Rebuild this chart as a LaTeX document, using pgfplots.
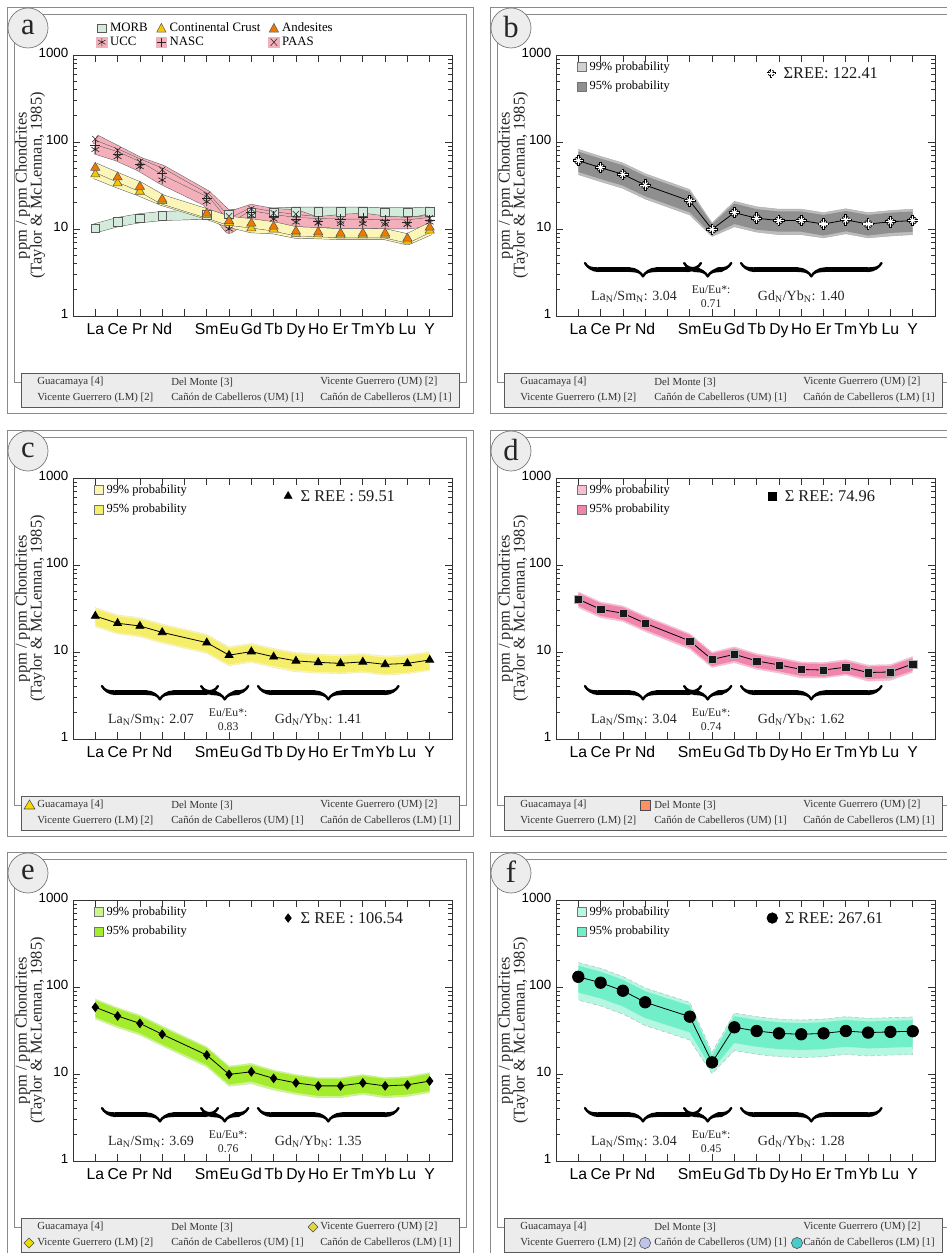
\documentclass[border=0pt]{standalone}
\usepackage{fontspec}
\setmainfont{Liberation Serif}
\setsansfont{Liberation Sans}
\usepackage{pgfplots}
\pgfplotsset{compat=1.18}
\usepackage{pgfplotstable}
\usetikzlibrary{decorations.pathreplacing,calligraphy}

\definecolor{frm}{HTML}{8A8A8A}
\definecolor{legfill}{HTML}{ECECEC}
\definecolor{morbc}{HTML}{D3EBDB}
\definecolor{ccy}{HTML}{F6C700}
\definecolor{andc}{HTML}{F07800}
\definecolor{ribyel}{HTML}{FBF6B8}
\definecolor{pinkc}{HTML}{F4B0BA}
\definecolor{bnn}{HTML}{BDBDBD}\definecolor{bnf}{HTML}{8F8F8F}
\definecolor{cnn}{HTML}{FBF5B0}\definecolor{cnf}{HTML}{F4EE68}
\definecolor{dnn}{HTML}{F9BDD2}\definecolor{dnf}{HTML}{F084AD}
\definecolor{enn}{HTML}{CCF58F}\definecolor{enf}{HTML}{A5EC2F}
\definecolor{fnn}{HTML}{B5F7E1}\definecolor{fnf}{HTML}{70EFC8}

\pgfplotstableread{
x morb cc andes ucc nasc paas
0 10.2 42.5 50.7 82 92 108
1 12.0 33.5 39.3 68 73 80
2 13.3 26.9 30.7 52 56 59
3 14.1 21.0 21.9 36.6 44 48
5 14.6 14.6 15.1 20.6 22.5 24.6
6 14.8 11.8 12.4 10.0 11.5 14.0
7 15.3 10.2 11.6 14.3 15.5 17.0
8 15.5 9.9 10.7 13.0 14.0 15.2
9 15.8 8.8 9.4 12.0 13.0 14.8
10 15.8 8.7 9.2 11.7 12.3 12.0
11 15.8 8.5 8.9 11.5 13.0 12.5
12 15.8 8.5 8.9 11.5 13.5 12.8
13 15.6 8.5 8.9 11.3 12.5 12.0
14 15.6 7.4 7.8 11.3 12.0 11.6
15 15.8 9.6 10.4 12.0 12.7 13.3
}\ta
% mean values of panels b-f
\pgfplotstableread{
x b c d e f
0 61 25.9 40.4 58.5 131
1 50.7 21.4 30.9 46.4 112
2 42.5 19.9 27.9 38.2 90.6
3 32 16.8 21.4 28.6 66.7
5 21 12.8 13.4 16.5 45.6
6 9.9 9.2 8.2 9.9 13.6
7 15.4 10.1 9.4 10.6 34.4
8 13.3 8.8 7.9 8.9 31.2
9 12.5 7.9 7.1 7.9 29.3
10 12.5 7.6 6.3 7.3 28.6
11 11.4 7.4 6.2 7.3 29.3
12 12.7 7.7 6.7 7.9 31.2
13 11.4 7.2 5.8 7.3 29.9
14 12.1 7.4 5.9 7.5 30.5
15 12.5 8.1 7.3 8.3 31
}\tm

\pgfplotsset{
    scale only axis, width=284.25pt, height=195.75pt,
    ymin=1, ymax=1000, xmin=-1, xmax=16,
    xtick={0,...,15},
    xticklabels={La,Ce,Pr,Nd,{},Sm,Eu,Gd,Tb,Dy,Ho,Er,Tm,Yb,Lu,Y},
    ytick={1,10,100,1000}, yticklabels={1,10,100,1000},
    minor ytick={2,3,4,5,6,7,8,9,20,30,40,50,60,70,80,90,200,300,400,500,600,700,800,900},
    tick align=inside, major tick length=5pt, minor tick length=3pt,
    every tick/.style={black!80, line width=0.5pt},
    axis line style={black!80, line width=0.6pt},
    typeset ticklabels with strut,
    xticklabel style={font=\sffamily\fontsize{11.8}{12}\selectfont, yshift=-2pt},
    yticklabel style={font=\sffamily\fontsize{10}{10}\selectfont},
    ylabel={ppm / ppm Chondrites\\(Taylor \& McLennan, 1985)},
    ylabel style={align=center, font=\fontsize{12.3}{11.2}\selectfont, at={(axis description cs:-0.113,0.5)}, anchor=center, text=black!85},
}
\pgfplotsset{
  ribbon/.style={draw=black!65, line width=0.35pt, double distance=6.5pt, line join=round, forget plot},
  sqleg/.style={legend image code/.code={\draw[##1, draw=black!55, line width=0.4pt] (0pt,-3.4pt) rectangle (6.8pt,3.4pt);}},
  problegend/.style={legend style={at={(axis description cs:0.045,0.995)}, anchor=north west, draw=none, fill=none,
      font=\fontsize{9.3}{10}\selectfont, row sep=2.5pt}, legend cell align=left},
}
\tikzset{
  brc/.style={decorate, decoration={calligraphic brace, amplitude=10pt, mirror}, line width=3.6pt, pen colour={black}},
  ratio/.style={font=\fontsize{10.5}{12}\selectfont, text=black!85},
  euratio/.style={font=\fontsize{8.8}{10.5}\selectfont, align=center, text=black!85},
  sumtxt/.style={font=\fontsize{12.3}{12}\selectfont, anchor=west, text=black!90},
}

% #1 axis left (px), #2 axis top (px, y up), #3 letter, #4 extra width on the right
\newcommand\panelframe[4]{%
\begin{scope}[x=0.75pt,y=0.75pt,shift={(#1,#2)}]
 \draw[frm, line width=0.7pt] (-66,48) rectangle (400+#4,-358);
 \draw[frm, line width=0.7pt] (-52,-327) -- (-59,-327) -- (-59,41) -- (393+#4,41) -- (393+#4,-327) -- (386,-327);
 \draw[fill=legfill, draw=black!65, line width=0.7pt] (-52,-318) rectangle (386,-352);
 \begin{scope}[every node/.style={anchor=west, font=\fontsize{8.1}{9}\selectfont, text=black!80, inner sep=0pt}]
 \node at (-36,-327) {Guacamaya [4]};
 \node at (98,-327) {Del Monte [3]};
 \node at (247,-327) {Vicente Guerrero (UM) [2]};
 \node at (-36,-343) {Vicente Guerrero (LM) [2]};
 \node at (98,-343) {Cañón de Cabelleros (UM) [1]};
 \node at (247,-343) {Cañón de Cabelleros (LM) [1]};
 \end{scope}
 \draw[fill=black!7, draw=black!55, line width=0.5pt] (-45,27) circle (15pt);
 \node[font=\fontsize{23}{23}\selectfont, text=black!85] at (-45,28) {#3};
\end{scope}}

\newcommand\ratios[3]{%
\draw[brc] (axis cs:0.3,4.06) -- (axis cs:5.5,4.06);
\draw[brc] (axis cs:4.75,4.06) -- (axis cs:6.86,4.06);
\draw[brc] (axis cs:7.3,4.06) -- (axis cs:13.6,4.06);
\node[ratio] at (axis cs:2.5,1.66) {La\textsubscript{N}/Sm\textsubscript{N}: #1};
\node[euratio] at (axis cs:5.96,1.66) {Eu/Eu*:\\#2};
\node[ratio] at (axis cs:10,1.66) {Gd\textsubscript{N}/Yb\textsubscript{N}: #3};}

\begin{document}
\begin{tikzpicture}
\useasboundingbox (0,0) rectangle (709.5pt,939.75pt);
\panelframe{73}{1198}{a}{0}
\panelframe{556}{1198}{b}{20}
\panelframe{73}{775}{c}{0}
\panelframe{556}{775}{d}{20}
\panelframe{73}{353}{e}{0}
\panelframe{556}{353}{f}{20}
% markers in the sample-legend boxes
\begin{scope}[x=0.75pt,y=0.75pt,shift={(73,775)}]
 \draw[fill=ccy!70!yellow, draw=black!70, line width=0.4pt] (-49,-331) -- (-38,-331) -- (-43.5,-322) -- cycle;
\end{scope}
\begin{scope}[x=0.75pt,y=0.75pt,shift={(556,775)}]
 \draw[fill=red!45!orange!60, draw=black!70, line width=0.4pt] (84,-332) rectangle (94,-322);
\end{scope}
\begin{scope}[x=0.75pt,y=0.75pt,shift={(73,353)}]
 \draw[fill=yellow!60!olive!70, draw=black!70, line width=0.4pt] (235,-327) -- (240,-322) -- (245,-327) -- (240,-332) -- cycle;
 \draw[fill=yellow!80!olive, draw=black!70, line width=0.4pt] (-49,-343) -- (-44,-338) -- (-39,-343) -- (-44,-348) -- cycle;
\end{scope}
\begin{scope}[x=0.75pt,y=0.75pt,shift={(556,353)}]
 \draw[fill=cyan!30!blue!25, draw=black!70, line width=0.4pt] (89,-343) circle (4.2pt);
 \draw[fill=teal!60!cyan!70, draw=black!70, line width=0.4pt] (241,-343) circle (4.2pt);
\end{scope}

% ---------------- panel a
\begin{semilogyaxis}[at={(54.75pt,898.5pt)}, anchor=north west,
  legend columns=3, legend cell align=left,
  legend style={at={(axis description cs:0.05,1.145)}, anchor=north west, draw=none, fill=none,
    font=\fontsize{9.6}{10}\selectfont, row sep=-1.5pt, /tikz/every even column/.append style={column sep=4pt}}]
\addplot[ribbon, double=morbc] table[x=x,y=morb]{\ta};
\addplot[ribbon, double=pinkc] table[x=x,y=paas]{\ta};
\addplot[ribbon, double=pinkc] table[x=x,y=nasc]{\ta};
\addplot[ribbon, double=pinkc] table[x=x,y=ucc]{\ta};
\addplot[ribbon, double=ribyel] table[x=x,y=cc]{\ta};
\addplot[ribbon, double=ribyel] table[x=x,y=andes]{\ta};
\addplot[only marks, mark=square*, mark size=3.3pt, mark options={fill=morbc, draw=black!65, line width=0.4pt}, forget plot] table[x=x,y=morb]{\ta};
\addplot[only marks, mark=asterisk, mark size=3.3pt, black!85, line width=0.5pt, forget plot] table[x=x,y=ucc]{\ta};
\addplot[only marks, mark=+, mark size=3.8pt, black!85, line width=0.4pt, forget plot] table[x=x,y=nasc]{\ta};
\addplot[only marks, mark=x, mark size=3.3pt, black!85, line width=0.4pt, forget plot] table[x=x,y=paas]{\ta};
\addplot[only marks, mark=triangle*, mark size=4pt, mark options={fill=ccy, draw=black!65, line width=0.4pt}, forget plot] table[x=x,y=cc]{\ta};
\addplot[only marks, mark=triangle*, mark size=4pt, mark options={fill=andc, draw=black!65, line width=0.4pt}, forget plot] table[x=x,y=andes]{\ta};
\addlegendimage{legend image code/.code={\draw[fill=morbc, draw=black!65, line width=0.4pt] (0pt,-3.3pt) rectangle (6.6pt,3.3pt);}}
\addlegendentry{MORB}
\addlegendimage{legend image code/.code={\draw[fill=ccy, draw=black!65, line width=0.4pt] (0pt,-3pt) -- (7pt,-3pt) -- (3.5pt,3.6pt) -- cycle;}}
\addlegendentry{Continental Crust}
\addlegendimage{legend image code/.code={\draw[fill=andc, draw=black!65, line width=0.4pt] (0pt,-3pt) -- (7pt,-3pt) -- (3.5pt,3.6pt) -- cycle;}}
\addlegendentry{Andesites}
\addlegendimage{legend image code/.code={\fill[pinkc] (-0.5pt,-4pt) rectangle (7.5pt,4pt); \draw[black!85, line width=0.4pt] (3.5pt,-3.2pt) -- (3.5pt,3.2pt) (0.73pt,-1.6pt) -- (6.27pt,1.6pt) (0.73pt,1.6pt) -- (6.27pt,-1.6pt);}}
\addlegendentry{UCC}
\addlegendimage{legend image code/.code={\fill[pinkc] (-0.5pt,-4pt) rectangle (7.5pt,4pt); \draw[black!85, line width=0.4pt] (3.5pt,-3.5pt) -- (3.5pt,3.5pt) (0pt,0pt) -- (7pt,0pt);}}
\addlegendentry{NASC}
\addlegendimage{legend image code/.code={\fill[pinkc] (-0.5pt,-4pt) rectangle (7.5pt,4pt); \draw[black!85, line width=0.4pt] (1pt,-2.8pt) -- (6pt,2.8pt) (1pt,2.8pt) -- (6pt,-2.8pt);}}
\addlegendentry{PAAS}
\end{semilogyaxis}

% ---------------- panel b
\begin{semilogyaxis}[problegend, at={(417pt,898.5pt)}, anchor=north west]
\addplot[fill=bnn, draw=bnn!90!black, line width=0.3pt, forget plot] coordinates {(0,82.4)(1,68.4)(2,57.4)(3,43.2)(5,28.4)(6,11.7)(7,20.8)(8,18.0)(9,16.9)(10,16.9)(11,15.4)(12,17.1)(13,15.4)(14,16.3)(15,16.9)
 (15,8.6)(14,8.3)(13,7.9)(12,8.8)(11,7.9)(10,8.6)(9,8.6)(8,9.2)(7,10.6)(6,8.2)(5,14.5)(3,22.1)(2,29.3)(1,35.0)(0,42.1)};
\addplot[fill=bnf, draw=none, forget plot] coordinates {(0,77.5)(1,64.4)(2,54.0)(3,40.6)(5,26.7)(6,11.3)(7,19.6)(8,16.9)(9,15.9)(10,15.9)(11,14.5)(12,16.1)(13,14.5)(14,15.4)(15,15.9)
 (15,9.3)(14,9.0)(13,8.4)(12,9.4)(11,8.4)(10,9.3)(9,9.3)(8,9.8)(7,11.4)(6,8.6)(5,15.5)(3,23.7)(2,31.5)(1,37.5)(0,45.1)};
\addplot[black, line width=0.6pt, forget plot] table[x=x,y=b]{\tm};
\addplot[only marks, mark=+, mark size=4.3pt, black, line width=2pt, forget plot] table[x=x,y=b]{\tm};
\addplot[only marks, mark=x, mark size=3.1pt, black, line width=2pt, forget plot] table[x=x,y=b]{\tm};
\addplot[only marks, mark=+, mark size=3.6pt, white, line width=0.8pt, forget plot] table[x=x,y=b]{\tm};
\addplot[only marks, mark=x, mark size=2.6pt, white, line width=0.8pt, forget plot] table[x=x,y=b]{\tm};
\addplot[only marks, mark=+, mark size=3.4pt, black, line width=1.6pt, forget plot] coordinates {(8.65,620)};
\addplot[only marks, mark=x, mark size=2.5pt, black, line width=1.6pt, forget plot] coordinates {(8.65,620)};
\addplot[only marks, mark=+, mark size=2.8pt, white, line width=0.6pt, forget plot] coordinates {(8.65,620)};
\addplot[only marks, mark=x, mark size=2pt, white, line width=0.6pt, forget plot] coordinates {(8.65,620)};
\node[sumtxt] at (axis cs:9.0,620) {ΣREE: 122.41};
\addlegendimage{sqleg, fill=bnn!70!white}\addlegendentry{99\% probability}
\addlegendimage{sqleg, fill=bnf}\addlegendentry{95\% probability}
\ratios{3.04}{0.71}{1.40}
\end{semilogyaxis}

% ---------------- panel c
\begin{semilogyaxis}[problegend, at={(54.75pt,581.25pt)}, anchor=north west]
\addplot[fill=cnn, draw=gray!50, densely dotted, line width=0.3pt, forget plot] coordinates {(0,32.4)(1,26.8)(2,24.9)(3,21.0)(5,16.0)(6,11.5)(7,12.6)(8,11.0)(9,9.9)(10,9.5)(11,9.3)(12,9.6)(13,9.0)(14,9.3)(15,10.1)
 (15,6.1)(14,5.6)(13,5.4)(12,5.8)(11,5.6)(10,5.7)(9,5.9)(8,6.6)(7,7.6)(6,6.9)(5,9.6)(3,12.6)(2,14.9)(1,16.1)(0,19.4)};
\addplot[fill=cnf, draw=none, forget plot] coordinates {(0,31.1)(1,25.7)(2,23.9)(3,20.2)(5,15.4)(6,11.0)(7,12.1)(8,10.6)(9,9.5)(10,9.1)(11,8.9)(12,9.2)(13,8.6)(14,8.9)(15,9.7)
 (15,6.3)(14,5.8)(13,5.6)(12,6.0)(11,5.8)(10,5.9)(9,6.2)(8,6.9)(7,7.9)(6,7.2)(5,10.0)(3,13.1)(2,15.5)(1,16.7)(0,20.2)};
\addplot[black, line width=0.6pt, mark=triangle*, mark size=3.4pt, forget plot] table[x=x,y=c]{\tm};
\addplot[only marks, mark=triangle*, mark size=3.4pt, black, forget plot] coordinates {(8.65,620)};
\node[sumtxt] at (axis cs:9.0,620) {Σ REE : 59.51};
\addlegendimage{sqleg, fill=cnn}\addlegendentry{99\% probability}
\addlegendimage{sqleg, fill=cnf}\addlegendentry{95\% probability}
\ratios{2.07}{0.83}{1.41}
\end{semilogyaxis}

% ---------------- panel d
\begin{semilogyaxis}[problegend, at={(417pt,581.25pt)}, anchor=north west]
\addplot[fill=dnn, draw=gray!50, densely dotted, line width=0.3pt, forget plot] coordinates {(0,49.3)(1,37.7)(2,34.0)(3,26.1)(5,16.3)(6,10.0)(7,11.5)(8,9.6)(9,8.7)(10,7.7)(11,7.6)(12,8.2)(13,7.1)(14,7.2)(15,8.9)
 (15,5.8)(14,4.7)(13,4.6)(12,5.4)(11,5.0)(10,5.0)(9,5.7)(8,6.3)(7,7.5)(6,6.6)(5,10.7)(3,17.1)(2,22.3)(1,24.7)(0,32.3)};
\addplot[fill=dnf, draw=none, forget plot] coordinates {(0,47.3)(1,36.2)(2,32.6)(3,25.0)(5,15.7)(6,9.6)(7,11.0)(8,9.2)(9,8.3)(10,7.4)(11,7.3)(12,7.8)(13,6.8)(14,6.9)(15,8.5)
 (15,6.1)(14,5.0)(13,4.9)(12,5.6)(11,5.2)(10,5.3)(9,6.0)(8,6.6)(7,7.9)(6,6.9)(5,11.3)(3,18.0)(2,23.4)(1,26.0)(0,33.9)};
\addplot[black, line width=0.6pt, mark=square*, mark size=3.1pt, mark options={fill=black!90, draw=white!70!black, line width=0.3pt}, forget plot] table[x=x,y=d]{\tm};
\addplot[only marks, mark=square*, mark size=3.1pt, black, forget plot] coordinates {(8.7,620)};
\node[sumtxt] at (axis cs:9.05,620) {Σ REE: 74.96};
\addlegendimage{sqleg, fill=dnn}\addlegendentry{99\% probability}
\addlegendimage{sqleg, fill=dnf}\addlegendentry{95\% probability}
\ratios{3.04}{0.74}{1.62}
\end{semilogyaxis}

% ---------------- panel e
\begin{semilogyaxis}[problegend, at={(54.75pt,264.75pt)}, anchor=north west]
\addplot[fill=enn, draw=gray!50, densely dotted, line width=0.3pt, forget plot] coordinates {(0,73.1)(1,58.0)(2,47.8)(3,35.8)(5,20.6)(6,12.4)(7,13.3)(8,11.1)(9,9.9)(10,9.1)(11,9.1)(12,9.9)(13,9.1)(14,9.4)(15,10.4)
 (15,6.1)(14,5.5)(13,5.3)(12,5.8)(11,5.3)(10,5.3)(9,5.8)(8,6.5)(7,7.7)(6,7.2)(5,12.0)(3,20.9)(2,27.9)(1,33.9)(0,42.7)};
\addplot[fill=enf, draw=none, forget plot] coordinates {(0,70.2)(1,55.7)(2,45.8)(3,34.3)(5,19.8)(6,11.9)(7,12.7)(8,10.7)(9,9.5)(10,8.8)(11,8.8)(12,9.5)(13,8.8)(14,9.0)(15,10.0)
 (15,6.4)(14,5.8)(13,5.6)(12,6.1)(11,5.6)(10,5.6)(9,6.1)(8,6.9)(7,8.2)(6,7.6)(5,12.7)(3,22.0)(2,29.4)(1,35.7)(0,45.0)};
\addplot[black, line width=0.6pt, mark=diamond*, mark size=3.2pt, forget plot] table[x=x,y=e]{\tm};
\addplot[only marks, mark=diamond*, mark size=3.2pt, black, forget plot] coordinates {(8.65,620)};
\node[sumtxt] at (axis cs:9.0,620) {Σ REE : 106.54};
\addlegendimage{sqleg, fill=enn}\addlegendentry{99\% probability}
\addlegendimage{sqleg, fill=enf}\addlegendentry{95\% probability}
\ratios{3.69}{0.76}{1.35}
\end{semilogyaxis}

% ---------------- panel f
\begin{semilogyaxis}[problegend, at={(417pt,264.75pt)}, anchor=north west]
\addplot[fill=fnn, draw=gray!60, densely dashed, line width=0.3pt, forget plot] coordinates {(0,191)(1,164)(2,132)(3,97.4)(5,66.6)(6,17.7)(7,50.2)(8,45.6)(9,42.8)(10,41.8)(11,42.8)(12,45.6)(13,43.7)(14,44.5)(15,45.3)
 (15,16.7)(14,16.5)(13,16.1)(12,16.8)(11,15.8)(10,15.4)(9,15.8)(8,16.8)(7,18.6)(6,10.1)(5,24.6)(3,36.0)(2,48.9)(1,60.5)(0,70.7)};
\addplot[fill=fnf, draw=none, forget plot] coordinates {(0,176)(1,150)(2,121)(3,89.4)(5,61.1)(6,16.3)(7,46.1)(8,41.8)(9,39.3)(10,38.3)(11,39.3)(12,41.8)(13,40.1)(14,40.9)(15,41.5)
 (15,20.5)(14,20.1)(13,19.7)(12,20.6)(11,19.3)(10,18.9)(9,19.3)(8,20.6)(7,22.7)(6,11.2)(5,30.1)(3,44.0)(2,59.8)(1,73.9)(0,86.5)};
\addplot[black, line width=0.6pt, mark=*, mark size=4.3pt, forget plot] table[x=x,y=f]{\tm};
\addplot[only marks, mark=*, mark size=4pt, black, forget plot] coordinates {(8.7,620)};
\node[sumtxt] at (axis cs:9.05,620) {Σ REE: 267.61};
\addlegendimage{sqleg, fill=fnn}\addlegendentry{99\% probability}
\addlegendimage{sqleg, fill=fnf}\addlegendentry{95\% probability}
\ratios{3.04}{0.45}{1.28}
\end{semilogyaxis}
\end{tikzpicture}
\end{document}
